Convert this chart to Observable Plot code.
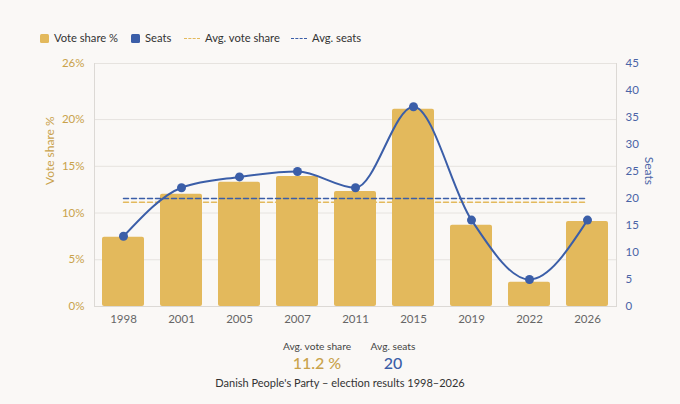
<!DOCTYPE html>
<html>
<head>
<meta charset="utf-8">
<script src="https://cdn.jsdelivr.net/npm/d3@7"></script>
<script src="https://cdn.jsdelivr.net/npm/@observablehq/plot@0.6"></script>
<style>
  html, body { margin: 0; padding: 0; background: #faf8f6; }
  body { width: 680px; height: 404px; overflow: hidden; font-family: Lato, "Noto Sans", sans-serif; color: #333; }
  #legend { height: 50px; position: relative; font-size: 11.2px; color: #333; }
  .li { position: absolute; top: 30px; display: flex; align-items: center; line-height: 16px; white-space: nowrap; }
  .sw { width: 9px; height: 9px; border-radius: 1.5px; margin-right: 5px; }
  .dash { width: 16px; height: 0; border-top: 1.5px dashed; margin-right: 5px; }
  #chart { height: 280px; }
  #avgs { position: relative; height: 46px; }
  .avg { position: absolute; top: 9px; text-align: center; }
  .avg .lab { font-size: 10.2px; color: #444; line-height: 14px; }
  .avg .val { font-size: 16px; font-weight: 500; line-height: 20px; }
  #caption { text-align: center; font-size: 11px; color: #333; margin-top: 0px; }
</style>
</head>
<body>
<div id="legend"></div>
<div id="chart"></div>
<div id="avgs"></div>
<div id="caption">Danish People's Party – election results 1998–2026</div>
<script>
const years = ["1998", "2001", "2005", "2007", "2011", "2015", "2019", "2022", "2026"];
const voteShare = [7.4, 12.0, 13.3, 13.9, 12.3, 21.1, 8.7, 2.6, 9.1];
const seats = [13, 22, 24, 25, 22, 37, 16, 5, 16];
const voteTicks = [0, 5, 10, 15, 20, 26];
const seatTicks = [0, 5, 10, 15, 20, 25, 30, 35, 40, 45];

const gold = "#e3b95c";
const goldText = "#c9a24b";
const blue = "#3b5ea8";
const blueText = "#4a64a6";
const voteMax = 26, seatMax = 45;
const toVote = s => s * voteMax / seatMax;

const avgVote = d3.mean(voteShare);
const avgSeats = d3.mean(seats);

const rows = years.map((y, i) => ({year: y, vote: voteShare[i], seats: seats[i]}));
const ends = [years[0], years[years.length - 1]];

// Legend
const legend = document.getElementById("legend");
legend.innerHTML = `
  <div class="li" style="left:40px"><span class="sw" style="background:${gold}"></span>Vote share %</div>
  <div class="li" style="left:131px"><span class="sw" style="background:${blue}"></span>Seats</div>
  <div class="li" style="left:184px"><span class="dash" style="border-color:${gold}"></span>Avg. vote share</div>
  <div class="li" style="left:291px"><span class="dash" style="border-color:${blue}"></span>Avg. seats</div>`;

const chart = Plot.plot({
  width: 680,
  height: 280,
  marginTop: 13,
  marginBottom: 24,
  marginLeft: 94,
  marginRight: 64,
  style: {background: "transparent", fontFamily: "Lato, 'Noto Sans', sans-serif", fontSize: "11.5px"},
  x: {type: "band", domain: years, paddingInner: 0.28, paddingOuter: 0.14, label: null},
  y: {domain: [0, voteMax], label: null},
  marks: [
    Plot.gridY(voteTicks, {stroke: "#e6e3df", strokeOpacity: 1}),
    Plot.barY(rows, {x: "year", y: "vote", fill: gold, rx: 2}),
    Plot.lineY(ends, {x: d => d, y: () => avgVote, stroke: gold, strokeWidth: 1.5, strokeDasharray: "5,3"}),
    Plot.lineY(ends, {x: d => d, y: () => toVote(avgSeats), stroke: blue, strokeWidth: 1.5, strokeDasharray: "5,3"}),
    Plot.lineY(rows, {x: "year", y: d => toVote(d.seats), stroke: blue, strokeWidth: 2, curve: "monotone-x"}),
    Plot.dot(rows, {x: "year", y: d => toVote(d.seats), fill: blue, r: 4.5}),
    Plot.axisY(voteTicks, {anchor: "left", tickSize: 0, tickPadding: 10, tickFormat: d => d + "%", fill: goldText, label: null}),
    Plot.axisY(seatTicks.map(toVote), {anchor: "right", tickSize: 0, tickPadding: 9, tickFormat: d => Math.round(d * seatMax / voteMax), fill: blueText, label: null}),
    Plot.axisX({tickSize: 0, tickPadding: 8, fill: "#666", label: null}),
    Plot.ruleY([0], {stroke: "#dcd9d5"}),
    Plot.frame({anchor: "left", stroke: "#dcd9d5"}),
    Plot.frame({anchor: "right", stroke: "#dcd9d5"}),
    Plot.text(["Vote share %"], {frameAnchor: "left", dx: -44, rotate: -90, fill: goldText, fontSize: 12}),
    Plot.text(["Seats"], {frameAnchor: "right", dx: 32, rotate: 90, fill: blueText, fontSize: 12})
  ]
});
document.getElementById("chart").appendChild(chart);

// Average annotations
const avgs = document.getElementById("avgs");
avgs.innerHTML = `
  <div class="avg" style="left:264px;width:106px"><div class="lab">Avg. vote share</div><div class="val" style="color:${goldText}">${avgVote.toFixed(1)} %</div></div>
  <div class="avg" style="left:360px;width:66px"><div class="lab">Avg. seats</div><div class="val" style="color:${blue}">${Math.round(avgSeats)}</div></div>`;
</script>
</body>
</html>
